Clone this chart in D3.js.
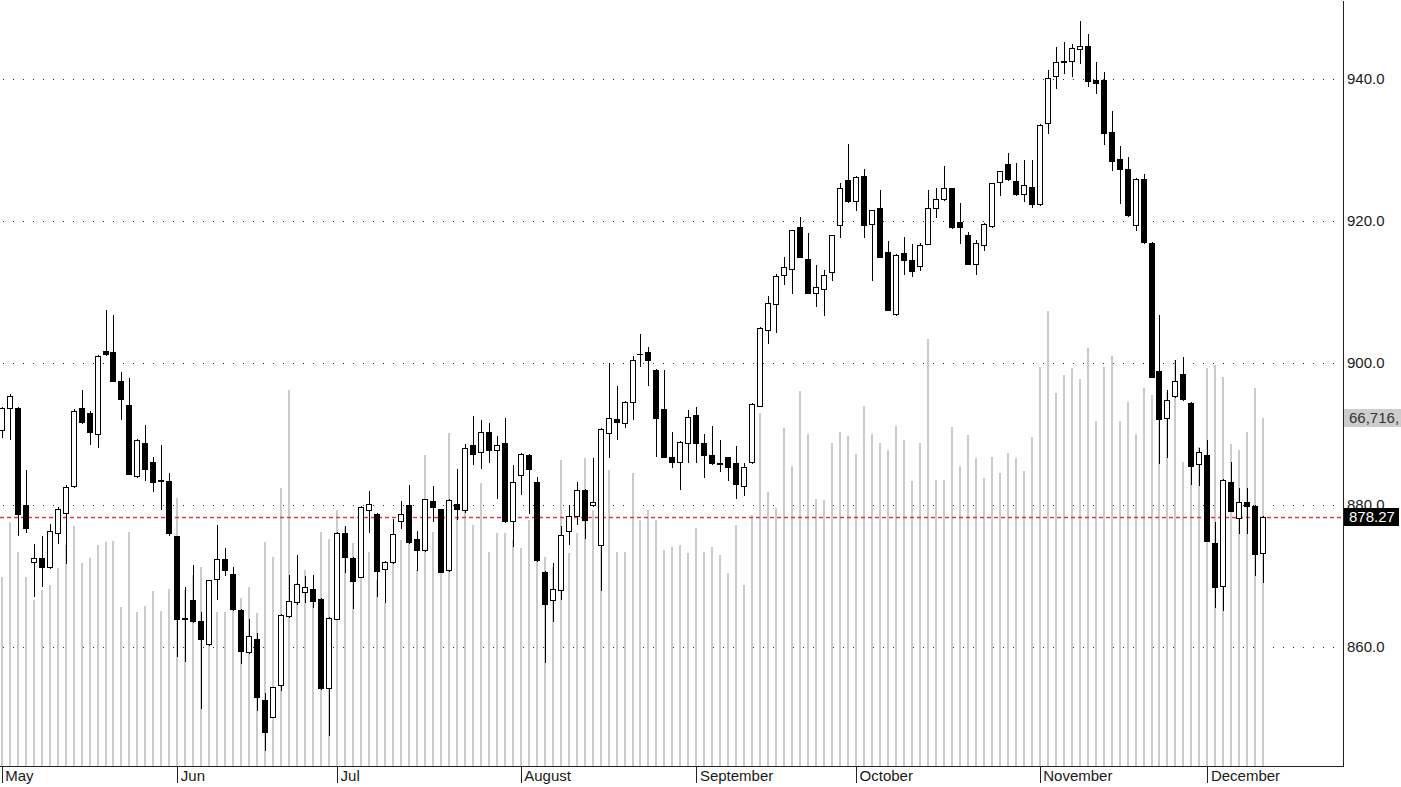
<!DOCTYPE html>
<html>
<head>
<meta charset="utf-8">
<script src="https://cdn.jsdelivr.net/npm/d3@7/dist/d3.min.js"></script>
<style>
  html, body { margin: 0; padding: 0; background: #ffffff; }
  svg { display: block; }
  text { font-family: "Liberation Sans", Arial, sans-serif; }
</style>
</head>
<body>
<div id="chart"></div>
<script>
// ---------------- DATA ----------------
const opens = [890.6,893.7,893.7,880.0,872.0,872.6,871.2,876.1,878.9,882.7,
893.6,892.9,890.0,901.7,901.5,897.5,894.1,884.1,888.7,886.0,
883.5,883.4,875.6,864.1,866.6,863.6,860.4,869.6,872.4,870.3,
865.2,859.3,861.1,852.5,850.2,854.7,864.3,866.4,867.7,868.1,
866.8,854.2,864.0,876.1,872.6,869.9,879.3,878.8,871.0,872.0,
877.7,880.0,875.2,873.6,880.5,879.4,870.8,880.2,879.3,888.5,
887.4,890.3,887.8,888.7,877.7,884.2,887.0,883.2,870.6,866.6,
868.0,876.3,878.4,882.1,880.0,874.3,890.1,892.1,891.6,894.5,
901.2,901.5,899.0,893.5,886.7,886.0,888.8,892.7,888.8,887.0,
885.9,886.7,885.9,882.7,886.0,894.0,904.7,908.3,912.4,913.2,
919.2,914.6,909.9,910.4,912.8,919.4,925.8,922.8,926.3,919.6,
921.8,915.6,906.9,915.5,914.5,913.7,916.8,921.9,923.1,924.6,
919.8,918.1,914.0,916.6,919.3,925.5,928.0,925.7,923.8,924.8,
922.4,933.8,940.4,942.4,942.5,944.2,944.6,939.8,939.9,932.5,
928.7,927.3,919.5,925.9,916.9,898.9,892.3,895.3,898.5,894.4,
885.8,887.0,874.7,868.6,883.2,878.2,880.4,879.9,873.2];

const highs = [893.8,895.6,893.8,884.9,874.5,875.6,877.3,879.7,882.8,893.5,
896.2,893.2,901.1,907.5,906.8,898.8,897.9,889.3,891.3,886.7,
888.5,884.5,875.7,868.4,871.5,864.9,869.5,877.2,874.0,871.3,
865.3,864.0,862.0,853.5,854.4,864.6,870.2,873.0,870.0,870.2,
866.9,864.2,876.2,877.0,872.7,879.8,882.0,878.9,872.1,878.1,
880.6,882.8,876.4,880.9,882.7,879.5,880.8,885.1,888.6,892.5,
892.0,891.6,889.7,892.2,885.6,887.3,887.2,884.0,870.7,871.8,
877.0,880.0,883.2,882.2,886.6,890.8,900.0,896.8,894.6,901.0,
904.1,902.2,899.1,899.0,890.3,889.0,893.4,893.8,890.0,891.1,
889.2,886.8,888.3,885.9,894.3,905.1,909.4,912.5,915.0,918.8,
920.5,918.3,913.8,913.1,918.1,925.3,930.8,926.3,927.3,921.6,
924.3,917.2,915.3,917.7,916.8,916.9,924.4,924.6,927.8,924.7,
922.5,918.5,917.3,919.7,925.4,927.1,929.6,928.2,928.6,928.6,
933.6,941.3,944.5,945.2,945.0,948.2,946.4,942.4,941.0,935.5,
930.6,929.0,926.0,926.6,917.0,906.7,896.2,900.4,900.8,894.5,
888.1,889.2,877.6,883.6,886.1,882.4,882.4,880.0,878.4];

const lows = [889.6,889.3,875.8,876.2,867.2,868.6,871.1,874.6,871.9,882.6,
891.6,888.6,888.2,901.1,897.4,892.1,884.3,883.9,883.5,882.0,
879.5,875.8,858.7,858.0,863.5,851.4,860.3,866.7,870.1,865.2,
857.7,859.2,851.1,845.5,850.1,853.9,864.2,866.0,866.3,865.7,
854.1,847.6,864.0,870.6,865.5,869.8,876.2,867.2,866.4,871.9,
876.8,874.7,870.8,873.5,877.7,870.5,870.7,878.1,879.0,885.8,
885.2,886.1,881.0,877.6,874.2,881.5,878.9,872.1,857.9,863.6,
866.7,874.5,877.3,875.3,879.9,868.0,886.8,889.3,891.0,892.1,
899.6,896.9,886.9,886.7,885.3,882.2,886.1,886.1,884.0,885.8,
884.8,883.5,881.0,881.4,885.9,893.9,902.8,904.4,911.1,909.8,
914.9,909.8,908.1,906.8,911.7,917.8,922.7,921.6,917.8,911.7,
914.9,907.4,906.8,912.5,912.2,913.1,916.7,920.6,923.0,919.0,
916.9,913.9,912.6,915.9,919.2,923.7,925.8,923.7,922.8,922.0,
922.3,932.4,938.8,940.9,940.4,942.2,939.0,938.1,930.8,927.2,
922.5,920.7,918.7,916.9,898.0,885.9,886.8,895.2,894.8,883.0,
882.8,874.9,865.7,865.2,879.1,876.0,876.0,870.2,869.1];

const closes = [893.7,895.4,878.7,876.7,872.6,871.3,876.3,879.5,882.6,893.2,
891.7,890.3,901.0,901.2,897.5,894.9,884.4,889.2,885.1,883.3,
883.4,876.0,863.9,864.0,863.6,861.1,869.4,872.4,870.8,865.3,
859.5,861.5,852.9,848.0,854.3,864.5,866.5,868.9,868.4,866.5,
854.2,864.1,876.1,872.7,869.3,879.7,880.1,870.7,872.0,875.9,
878.8,874.8,873.6,880.8,879.7,870.6,880.7,879.4,888.1,887.2,
890.3,887.7,888.4,877.8,883.2,887.2,885.1,872.2,866.0,868.2,
875.8,878.5,882.1,877.9,880.4,890.7,892.3,891.7,894.5,900.4,
901.3,900.4,892.3,886.8,886.0,888.9,892.4,888.8,887.0,885.9,
885.8,885.4,882.9,885.4,894.2,905.0,908.5,912.3,913.5,918.7,
915.0,909.9,910.7,912.4,918.0,924.7,922.8,926.2,919.5,921.5,
915.0,907.5,915.2,914.5,912.9,916.6,921.9,923.1,924.6,919.1,
919.1,914.0,916.9,919.6,925.3,927.0,925.9,923.8,925.1,922.4,
933.5,940.2,942.4,942.5,944.3,944.6,939.7,939.5,932.4,928.4,
927.3,920.8,925.9,917.0,898.1,892.1,894.8,897.5,894.9,885.5,
887.4,875.0,868.5,883.5,879.2,880.4,879.8,873.1,878.27];

const volumes = [36232,46775,41024,36232,31822,33739,34698,37957,42366,46008,
38915,39874,42366,42941,43133,30480,44858,29522,30672,33548,
29714,33931,51376,33739,36615,38148,31822,29522,29522,33739,
32206,34314,29330,42941,40065,53293,72079,35081,37573,32781,
44858,43516,49075,45816,42749,39490,41024,35656,31247,43324,
43324,42941,37573,59619,44858,44666,63836,47542,49075,46200,
54251,41024,44666,44666,43324,41791,47158,41407,40065,38148,
58660,40832,44666,59044,49075,41982,56743,41024,41024,56168,
47158,49075,47158,41407,41982,42366,40832,45625,41024,41982,
40449,36998,46200,34698,48117,67670,52526,49459,64795,57510,
71888,63644,51184,50992,61919,64028,63261,59810,69012,63644,
61919,60577,65178,62494,54635,61919,81856,54826,54826,64986,
57510,63453,59044,55210,59235,56168,60002,59044,56552,63069,
76488,87224,71504,74955,76297,74188,80131,66137,76488,78597,
66137,69779,63644,72463,71121,70162,71696,77830,58277,63069,
61152,76297,76872,74571,61727,60577,64028,72463,66716];

const monthLabels = ["May","Jun","Jul","August","September","October","November","December"];
const monthStarts = [0,22,42,65,87,107,130,151];
const priceTicks = [860,880,900,920,940];
const lastPrice = 878.27;
const lastVolumeLabel = "66,716,";

// ---------------- LAYOUT ----------------
const W = 1401, H = 787;
const plotRight = 1343, plotBottom = 766;
const n = closes.length;

const svg = d3.select("#chart").append("svg")
  .attr("width", W).attr("height", H)
  .attr("viewBox", `0 0 ${W} ${H}`);

svg.append("rect").attr("width", W).attr("height", H).attr("fill", "#ffffff");

const x = d3.scaleLinear().domain([0, n - 1]).range([1.7, 1263.3]);
const y = d3.scaleLinear().domain([843.24, 951.13]).range([plotBottom, 0]);
const yVol = d3.scaleLinear().domain([0, 147000]).range([plotBottom, 0]);

const idx = d3.range(n);
const cx = i => Math.round(x(i));

// grid (dotted)
svg.append("g").selectAll("line").data(priceTicks).join("line")
  .attr("x1", 3).attr("x2", plotRight - 3)
  .attr("y1", d => Math.round(y(d)) + 0.5)
  .attr("y2", d => Math.round(y(d)) + 0.5)
  .attr("stroke", "#333").attr("stroke-width", 1)
  .attr("stroke-dasharray", "1,9")
  .attr("shape-rendering", "crispEdges");

// volume lines
svg.append("g").selectAll("line").data(idx).join("line")
  .attr("x1", i => cx(i)).attr("x2", i => cx(i))
  .attr("y1", plotBottom)
  .attr("y2", i => Math.round(yVol(volumes[i])))
  .attr("stroke", "#cbcbcb").attr("stroke-width", 2)
  .attr("shape-rendering", "crispEdges");

// last price dashed red line
svg.append("line")
  .attr("x1", 0).attr("x2", plotRight)
  .attr("y1", Math.round(y(lastPrice)) + 0.5)
  .attr("y2", Math.round(y(lastPrice)) + 0.5)
  .attr("stroke", "#e0393e").attr("stroke-width", 1.6)
  .attr("stroke-dasharray", "4,3");

// candles
const cg = svg.append("g");
cg.selectAll("line.wick").data(idx).join("line")
  .attr("class", "wick")
  .attr("x1", i => cx(i) + 0.5).attr("x2", i => cx(i) + 0.5)
  .attr("y1", i => Math.round(y(highs[i])))
  .attr("y2", i => Math.round(y(lows[i])) + 1)
  .attr("stroke", "#000").attr("stroke-width", 1)
  .attr("shape-rendering", "crispEdges");

idx.forEach(i => {
  const top = Math.round(y(Math.max(opens[i], closes[i])));
  const bot = Math.round(y(Math.min(opens[i], closes[i])));
  const up = closes[i] >= opens[i];
  if (bot - top < 1) {
    cg.append("line")
      .attr("x1", cx(i) - 3).attr("x2", cx(i) + 3)
      .attr("y1", top + 0.5).attr("y2", top + 0.5)
      .attr("stroke", "#000").attr("stroke-width", 1)
      .attr("shape-rendering", "crispEdges");
  } else {
    cg.append("rect")
      .attr("x", cx(i) - 2.5).attr("width", 5)
      .attr("y", top + 0.5).attr("height", bot - top)
      .attr("fill", up ? "#ffffff" : "#000000")
      .attr("stroke", "#000").attr("stroke-width", 1)
      .attr("shape-rendering", "crispEdges");
  }
});

// bottom axis
svg.append("line")
  .attr("x1", 0).attr("x2", plotRight + 1)
  .attr("y1", plotBottom + 0.5).attr("y2", plotBottom + 0.5)
  .attr("stroke", "#222").attr("shape-rendering", "crispEdges");

const xAxis = d3.axisBottom(x)
  .tickValues(monthStarts)
  .tickFormat((d, i) => monthLabels[i])
  .tickSizeInner(17).tickSizeOuter(0);

const gx = svg.append("g")
  .attr("transform", `translate(0,${plotBottom})`)
  .call(xAxis);
gx.select(".domain").remove();
gx.selectAll(".tick line").attr("stroke", "#222").attr("shape-rendering", "crispEdges");
gx.selectAll(".tick text")
  .attr("x", 3).attr("y", 4).attr("dy", "0.71em")
  .attr("text-anchor", "start")
  .attr("fill", "#1a1a1a")
  .style("font-size", "15px")
  .style("font-family", "'Liberation Sans', Arial, sans-serif");

// right axis
const yAxis = d3.axisRight(y)
  .tickValues(priceTicks)
  .tickFormat(d3.format(".1f"))
  .tickSizeInner(0).tickSizeOuter(0).tickPadding(4);

const gy = svg.append("g")
  .attr("transform", `translate(${plotRight},0)`)
  .call(yAxis);
gy.select(".domain").attr("stroke", "#222").attr("shape-rendering", "crispEdges");
gy.selectAll(".tick text")
  .attr("fill", "#1a1a1a")
  .style("font-size", "15px")
  .style("font-family", "'Liberation Sans', Arial, sans-serif");

// volume value label (gray box)
const vy = Math.round(yVol(volumes[n - 1]));
svg.append("rect")
  .attr("x", plotRight + 1).attr("y", vy - 9)
  .attr("width", W - plotRight).attr("height", 18)
  .attr("fill", "#cdcdcd");
svg.append("text")
  .attr("x", plotRight + 6).attr("y", vy)
  .attr("dy", "0.35em")
  .attr("fill", "#333")
  .style("font-size", "15px")
  .text(lastVolumeLabel);

// last price label (black box)
const py = Math.round(y(lastPrice));
svg.append("rect")
  .attr("x", plotRight + 1).attr("y", py - 9)
  .attr("width", 55).attr("height", 18)
  .attr("fill", "#000");
svg.append("text")
  .attr("x", plotRight + 6).attr("y", py)
  .attr("dy", "0.35em")
  .attr("fill", "#fff")
  .style("font-size", "15px")
  .text(d3.format(".2f")(lastPrice));
</script>
</body>
</html>
